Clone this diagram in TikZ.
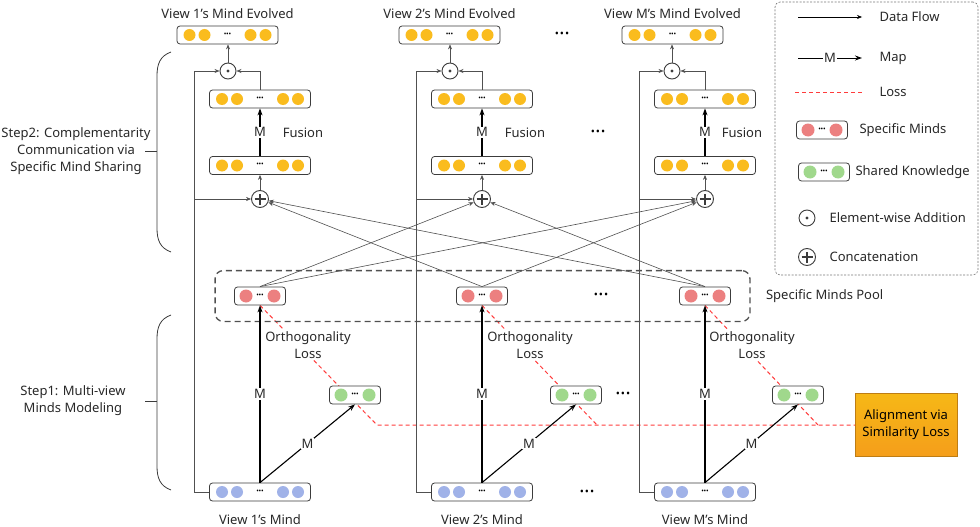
\documentclass[tikz,border=0pt]{standalone}
\usepackage{fontspec}
\setmainfont{Noto Sans}
\usepackage{tikz}
\usetikzlibrary{positioning,arrows.meta,fit}
\definecolor{boxgray}{RGB}{60,60,60}
\definecolor{flowgray}{RGB}{80,80,80}
\definecolor{textgray}{RGB}{40,40,40}
\definecolor{mindyellow}{RGB}{250,188,30}
\definecolor{mindblue}{RGB}{160,178,232}
\definecolor{mindred}{RGB}{236,128,128}
\definecolor{mindgreen}{RGB}{160,216,140}
\definecolor{lossred}{RGB}{255,60,60}
\definecolor{alignorange}{RGB}{244,166,28}
\definecolor{alignedge}{RGB}{190,125,20}
\pgfdeclarelayer{bg}
\pgfsetlayers{bg,main}
\newcommand{\boxdots}{\raisebox{1pt}{\fontsize{7}{7}\selectfont\textbullet\hspace{-0.3pt}\textbullet\hspace{-0.3pt}\textbullet}}
\newcommand{\gapdots}{\fontsize{11}{11}\selectfont\textbullet\hspace{1pt}\textbullet\hspace{1pt}\textbullet}

\begin{document}
\begin{tikzpicture}[x=1pt, y=-1pt,
        font=\fontsize{13}{17}\selectfont, text=textgray,
        mindrow/.style={rectangle, rounded corners=3pt, draw=boxgray, fill=white, line width=0.8pt,
                        minimum width=101pt, minimum height=18pt, inner sep=0pt, text=black,
                        path picture={\foreach \dx in {-38,-23,23,38}
                          \fill[#1] ([xshift=\dx pt]path picture bounding box.center) circle (6pt);}},
        minirow/.style={rectangle, rounded corners=3pt, draw=boxgray, fill=white, line width=0.8pt,
                        minimum width=51pt, minimum height=18pt, inner sep=0pt, text=black,
                        path picture={\foreach \dx in {-14,14}
                          \fill[#1] ([xshift=\dx pt]path picture bounding box.center) circle (6.5pt);}},
        plusop/.style={circle, draw=boxgray, fill=white, line width=0.9pt, minimum size=17pt, inner sep=0pt,
                       path picture={\draw[line width=1.4pt, boxgray]
                          ([xshift=-5.5pt]path picture bounding box.center) -- ([xshift=5.5pt]path picture bounding box.center)
                          ([yshift=-5.5pt]path picture bounding box.center) -- ([yshift=5.5pt]path picture bounding box.center);}},
        dotop/.style={circle, draw=boxgray, fill=white, line width=0.9pt, minimum size=16pt, inner sep=0pt,
                      path picture={\fill[boxgray] (path picture bounding box.center) circle (1.6pt);}},
        flow/.style={-{Stealth[length=5pt,width=4pt]}, draw=flowgray, line width=0.6pt},
        mapto/.style={-{Stealth[length=7pt,width=5pt]}, draw=black, line width=1.1pt},
        loss/.style={draw=lossred, line width=1pt, dash pattern=on 4pt off 3pt},
        mlabel/.style={fill=white, inner sep=1pt},
        losslabel/.style={fill=white, inner sep=1pt, align=center},
        gap/.style={text=black},
        pool/.style={draw=boxgray!90, line width=1.3pt, dash pattern=on 6pt off 4pt, rounded corners=8pt,
                     inner xsep=19pt, inner ysep=16pt},
        brace/.style={draw=boxgray, line width=0.8pt},
        steptext/.style={align=center},
        alignbox/.style={rectangle, draw=alignedge, top color=alignorange!80!yellow, bottom color=alignorange!95!red,
                         minimum width=102pt, minimum height=63pt, align=center, text=black},
        legendbox/.style={rectangle, draw=boxgray!70, line width=0.6pt, dash pattern=on 2pt off 1.5pt,
                          rounded corners=5pt, minimum width=203pt, minimum height=273pt}
    ]
    \useasboundingbox (0,0) rectangle (980,527);

    % 视图 1
    \node[mindrow=mindyellow] (ev1) at (227.5,35) {\boxdots};
    \node[dotop] (od1) at (228,71) {};
    \node[mindrow=mindyellow] (fu1b) at (260,99) {\boxdots};
    \node[mindrow=mindyellow] (fu1a) at (260,165.5) {\boxdots};
    \node[plusop] (pl1) at (260,199) {};
    \node[minirow=mindred] (sp1) at (260,296) {\boxdots};
    \node[minirow=mindgreen] (sh1) at (355,395) {\boxdots};
    \node[mindrow=mindblue] (in1) at (260,492) {\boxdots};
    \node[above=3pt of ev1] (tev1) {View 1's Mind Evolved};
    \node[below=10pt of in1] (tin1) {View 1's Mind};
    \node (fl1) at (303,133) {Fusion};
    \node[losslabel] (ol1) at (308,345) {Orthogonality\\Loss};

    % 视图 2
    \node[mindrow=mindyellow] (ev2) at (449.5,35) {\boxdots};
    \node[dotop] (od2) at (450,71) {};
    \node[mindrow=mindyellow] (fu2b) at (482,99) {\boxdots};
    \node[mindrow=mindyellow] (fu2a) at (482,165.5) {\boxdots};
    \node[plusop] (pl2) at (482,199) {};
    \node[minirow=mindred] (sp2) at (482,296) {\boxdots};
    \node[minirow=mindgreen] (sh2) at (576,395) {\boxdots};
    \node[mindrow=mindblue] (in2) at (482,492) {\boxdots};
    \node[above=3pt of ev2] (tev2) {View 2's Mind Evolved};
    \node[below=10pt of in2] (tin2) {View 2's Mind};
    \node (fl2) at (525,133) {Fusion};
    \node[losslabel] (ol2) at (530,345) {Orthogonality\\Loss};

    % 视图 M
    \node[mindrow=mindyellow] (evM) at (672.5,35) {\boxdots};
    \node[dotop] (odM) at (672,71) {};
    \node[mindrow=mindyellow] (fuMb) at (705,99) {\boxdots};
    \node[mindrow=mindyellow] (fuMa) at (705,165.5) {\boxdots};
    \node[plusop] (plM) at (705,199) {};
    \node[minirow=mindred] (spM) at (705,296) {\boxdots};
    \node[minirow=mindgreen] (shM) at (798,395) {\boxdots};
    \node[mindrow=mindblue] (inM) at (705,492) {\boxdots};
    \node[above=3pt of evM] (tevM) {View M's Mind Evolved};
    \node[below=10pt of inM] (tinM) {View M's Mind};
    \node (flM) at (742,133) {Fusion};
    \node[losslabel] (olM) at (752,345) {Orthogonality\\Loss};

    % 省略号
    \node[gap] (gapev) at (562,35) {\gapdots};
    \node[gap] (gapfu) at (598,133) {\gapdots};
    \node[gap] (gapsp) at (601,296) {\gapdots};
    \node[gap] (gapsh) at (623,395) {\gapdots};
    \node[gap] (gapin) at (587,493) {\gapdots};

    % 特定心智池与对齐
    \node[pool, fit=(sp1)(spM)] (pool) {};
    \node[right=12pt of pool] (tpool) {Specific Minds Pool};
    \node[alignbox] (align) at (906,425) {Alignment via\\Similarity Loss};

    % 左侧步骤说明
    \node[steptext] (step2) at (76,151) {Step2: Complementarity\\Communication via\\Specific Mind Sharing};
    \node[steptext] (step1) at (73,401) {Step1: Multi-view\\Minds Modeling};
    \draw[brace] (171,52) .. controls (160,56) and (157,64) .. (157,76) -- (157,228)
                 .. controls (157,240) and (160,248) .. (171,252);
    \draw[brace] (157,151) -- (145,151);
    \draw[brace] (171,315) .. controls (160,319) and (157,327) .. (157,339) -- (157,466)
                 .. controls (157,478) and (160,486) .. (171,490);
    \draw[brace] (157,401) -- (145,401);

    % 旁路
    \coordinate (bus1) at ([xshift=-15pt]in1.west);
    \coordinate (bus2) at ([xshift=-15pt]in2.west);
    \coordinate (busM) at ([xshift=-15pt]inM.west);
    \draw[flow] (in1.west) -- (bus1) |- (od1.west);
    \draw[flow] (in2.west) -- (bus2) |- (od2.west);
    \draw[flow] (inM.west) -- (busM) |- (odM.west);
    \draw[flow] (bus1 |- pl1) -- (pl1.west);
    \draw[flow] (bus2 |- pl2) -- (pl2.west);
    \draw[flow] (busM |- plM) -- (plM.west);

    % 融合
    \draw[flow] (pl1) -- (fu1a);
    \draw[flow] (pl2) -- (fu2a);
    \draw[flow] (plM) -- (fuMa);
    \draw[mapto] (fu1a) -- node[mlabel] {M} (fu1b);
    \draw[mapto] (fu2a) -- node[mlabel] {M} (fu2b);
    \draw[mapto] (fuMa) -- node[mlabel] {M} (fuMb);
    \draw[flow] (fu1b.north) |- (od1.east);
    \draw[flow] (fu2b.north) |- (od2.east);
    \draw[flow] (fuMb.north) |- (odM.east);
    \draw[flow] (od1.north) -- (od1.north |- ev1.south);
    \draw[flow] (od2.north) -- (od2.north |- ev2.south);
    \draw[flow] (odM.north) -- (odM.north |- evM.south);

    % 共享
    \draw[flow] (sp1.north) -- (pl2);
    \draw[flow] (sp1.north) -- (plM);
    \draw[flow] (sp2.north) -- (pl1);
    \draw[flow] (sp2.north) -- (plM);
    \draw[flow] (spM.north) -- (pl1);
    \draw[flow] (spM.north) -- (pl2);

    % 映射
    \draw[mapto] (in1.north) -- node[mlabel] {M} (sp1.south);
    \draw[mapto] (in2.north) -- node[mlabel] {M} (sp2.south);
    \draw[mapto] (inM.north) -- node[mlabel] {M} (spM.south);
    \draw[mapto] (in1.north) -- node[mlabel] {M} (sh1.south);
    \draw[mapto] (in2.north) -- node[mlabel] {M} (sh2.south);
    \draw[mapto] (inM.north) -- node[mlabel] {M} (shM.south);

    % 损失
    \coordinate (j1) at (377,425);
    \coordinate (j2) at (597,425);
    \coordinate (jM) at (818,425);
    \begin{pgfonlayer}{bg}
        \draw[loss] (sp1.south) -- (j1) -- (align.west);
        \draw[loss] (sp2.south) -- (j2);
        \draw[loss] (spM.south) -- (jM);
    \end{pgfonlayer}

    % 图例
    \node[legendbox] (legend) at (876.5,138.5) {};
    \coordinate (lga) at (798,17);  \coordinate (lgb) at (862,17);
    \coordinate (lgc) at (798,58);  \coordinate (lgd) at (862,58);
    \coordinate (lge) at (795,92);  \coordinate (lgf) at (862,92);
    \draw[flow, draw=black] (lga) -- (lgb);
    \draw[mapto, line width=0.9pt] (lgc) -- node[mlabel] {M} (lgd);
    \draw[loss] (lge) -- (lgf);
    \node[anchor=west] (lgflow) at (876,17) {Data Flow};
    \node[anchor=west] (lgmap) at (876,58) {Map};
    \node[anchor=west] (lgloss) at (876,92) {Loss};
    \node[minirow=mindred] (lgsp) at (822,130) {\boxdots};
    \node[anchor=west] (lgsptext) at (856,130) {Specific Minds};
    \node[minirow=mindgreen] (lgsh) at (824,172) {\boxdots};
    \node[anchor=west] (lgshtext) at (852,172) {Shared Knowledge};
    \node[dotop] (lgod) at (807,218) {};
    \node[anchor=west] (lgodtext) at (826,218) {Element-wise Addition};
    \node[plusop] (lgpl) at (807,257) {};
    \node[anchor=west] (lgpltext) at (826,257) {Concatenation};
\end{tikzpicture}
\end{document}
